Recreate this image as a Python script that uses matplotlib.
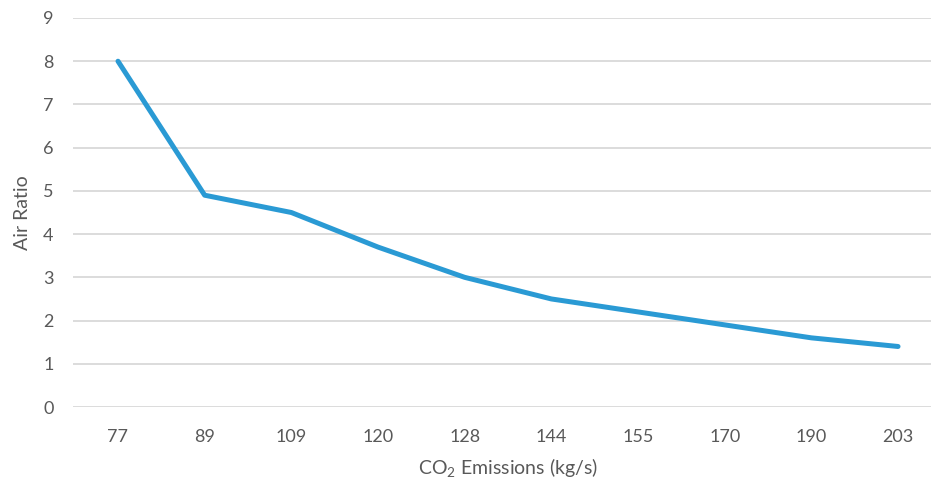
import matplotlib
matplotlib.use("Agg")
import matplotlib.pyplot as plt

emissions = ["77", "89", "109", "120", "128", "144", "155", "170", "190", "203"]
air_ratio = [8.0, 4.9, 4.5, 3.7, 3.0, 2.5, 2.2, 1.9, 1.6, 1.4]
y_ticks = list(range(0, 10))

plt.rcParams["font.family"] = ["Lato", "DejaVu Sans"]
plt.rcParams["mathtext.default"] = "regular"

fig = plt.figure(figsize=(9.31, 4.86), dpi=100)
ax = fig.add_axes([73 / 931, 1 - 407 / 486, (931 - 73) / 931, (407 - 18) / 486])

x = list(range(len(emissions)))
ax.plot(x, air_ratio, color="#2A9AD4", linewidth=3.6, solid_capstyle="round",
        solid_joinstyle="round", zorder=3)

ax.set_xlim((73 - 118) / 86.67, (931 - 118) / 86.67)
ax.set_ylim(0, 9)
ax.set_xticks(x)
ax.set_xticklabels(emissions)
ax.set_yticks(y_ticks)

ax.grid(axis="y", color="#D9D9D9", linewidth=1.3)
ax.grid(axis="x", visible=False)
for s in ax.spines.values():
    s.set_visible(False)

ax.tick_params(axis="both", length=0, labelsize=13, colors="#595959")
ax.tick_params(axis="y", pad=14)
ax.tick_params(axis="x", pad=16)

ax.set_ylabel("Air Ratio", fontsize=14, color="#595959")
ax.yaxis.set_label_coords(-(73 - 31) / (931 - 73), 0.5)
ax.set_xlabel("CO$_2$ Emissions (kg/s)", fontsize=14, color="#595959")
ax.xaxis.set_label_coords((508 - 73) / (931 - 73), -(456 - 407) / (407 - 18))

fig.savefig("out.png", dpi=100)
